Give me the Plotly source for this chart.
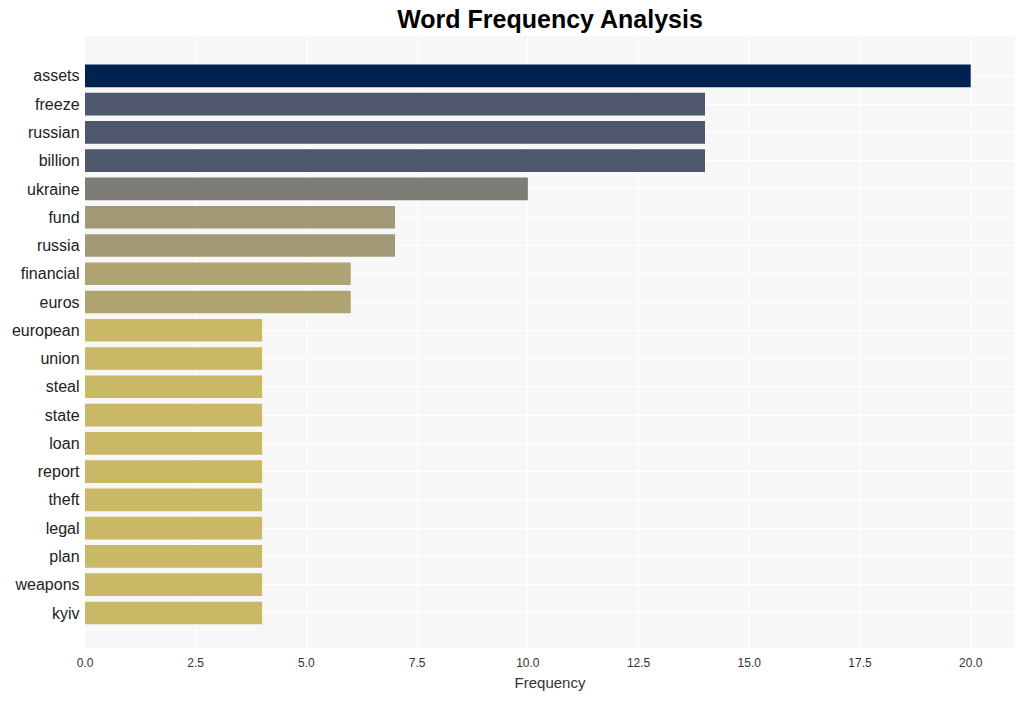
import plotly.graph_objects as go

words = ["assets", "freeze", "russian", "billion", "ukraine", "fund", "russia",
         "financial", "euros", "european", "union", "steal", "state", "loan",
         "report", "theft", "legal", "plan", "weapons", "kyiv"]
freqs = [20, 14, 14, 14, 10, 7, 7, 6, 6, 4, 4, 4, 4, 4, 4, 4, 4, 4, 4, 4]
x_ticks = [0, 2.5, 5, 7.5, 10, 12.5, 15, 17.5, 20]
x_tick_labels = ["0.0", "2.5", "5.0", "7.5", "10.0", "12.5", "15.0", "17.5", "20.0"]

fig = go.Figure(go.Bar(
    x=freqs, y=words, orientation="h", width=0.8,
    marker=dict(color=freqs, colorscale="Cividis", reversescale=True, cmin=0, cmax=20,
                line=dict(width=0)),
))

fig.update_layout(
    width=1025, height=701,
    margin=dict(l=85, r=10, t=36, b=53),
    paper_bgcolor="white", plot_bgcolor="#f7f7f7",
    font=dict(family="Arial, Liberation Sans, sans-serif", color="#333"),
    title=dict(text="<b>Word Frequency Analysis</b>", x=0.5, xref="paper", xanchor="center",
               y=0.973, yanchor="middle", font=dict(size=25, color="black")),
    xaxis=dict(title=dict(text="Frequency", font=dict(size=15, color="#333"), standoff=8),
               range=[0, 21], tickvals=x_ticks, ticktext=x_tick_labels,
               tickfont=dict(size=12, color="#333"), gridcolor="white", gridwidth=1,
               ticklabelstandoff=6,
               zeroline=False, showline=False),
    yaxis=dict(categoryorder="array", categoryarray=words,
               range=[len(words) - 1 + 1.24, -1.41],
               tickfont=dict(size=16, color="#222"), gridcolor="white", gridwidth=1,
               ticksuffix=" ", zeroline=False, showline=False),
    showlegend=False,
)

fig.write_html("out.html")
